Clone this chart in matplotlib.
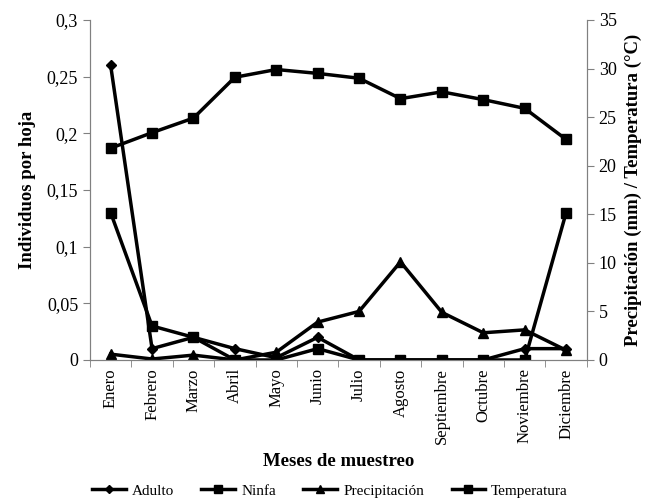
import numpy as np
import matplotlib.pyplot as plt
from matplotlib.ticker import FuncFormatter

plt.rcParams['font.family'] = ['Liberation Serif', 'DejaVu Serif']

meses = ['Enero', 'Febrero', 'Marzo', 'Abril', 'Mayo', 'Junio', 'Julio',
         'Agosto', 'Septiembre', 'Octubre', 'Noviembre', 'Diciembre']
adulto = [0.26, 0.01, 0.02, 0.01, 0.002, 0.02, 0, 0, 0, 0, 0.01, 0.01]
ninfa = [0.13, 0.03, 0.02, 0, 0, 0.01, 0, 0, 0, 0, 0, 0.13]
precipitacion = [0.6, 0.1, 0.5, 0.0, 0.8, 3.9, 5.0, 10.1, 4.9, 2.8, 3.1, 1.0]
temperatura = [21.8, 23.4, 24.9, 29.1, 29.9, 29.5, 29.0, 26.9, 27.6, 26.8, 25.9, 22.7]

x = np.arange(len(meses))
grey = '#808080'

fig = plt.figure(figsize=(6.47, 4.99), dpi=100)
ax = fig.add_axes([0.139, 0.2786, 0.768, 0.6814])
ax2 = ax.twinx()

lw = 2.5
l1, = ax.plot(x, adulto, color='black', lw=lw, marker='D', ms=5, label='Adulto')
l2, = ax.plot(x, ninfa, color='black', lw=lw, marker='s', ms=7, label='Ninfa')
l3, = ax2.plot(x, precipitacion, color='black', lw=lw, marker='^', ms=7, label='Precipitación')
l4, = ax2.plot(x, temperatura, color='black', lw=lw, marker='s', ms=7, label='Temperatura')

ax.set_xlim(-0.5, len(meses) - 0.5)
ax.set_ylim(0, 0.3)
ax2.set_ylim(0, 35)
ax.set_yticks(np.arange(0, 0.301, 0.05))
ax2.set_yticks(np.arange(0, 36, 5))
ax.yaxis.set_major_formatter(FuncFormatter(lambda v, p: ('%g' % round(v, 2)).replace('.', ',')))

ax.set_xticks(x)
ax.set_xticklabels(meses, rotation=90)
ax.set_xticks(np.arange(-0.5, len(meses), 1), minor=True)
ax.tick_params(axis='x', which='major', length=0, pad=6, labelsize=12)
ax.tick_params(axis='x', which='minor', length=5, color=grey)

for a in (ax, ax2):
    for s in a.spines.values():
        s.set_color(grey)
    a.spines['top'].set_visible(False)
    a.tick_params(axis='y', length=5, color=grey, labelsize=13)
ax.set_zorder(ax2.get_zorder() + 1)
ax.patch.set_visible(False)

ax.set_ylabel('Individuos por hoja', fontsize=13.5, fontweight='bold', labelpad=8)
ax2.set_ylabel('Precipitación (mm) / Temperatura (°C)', fontsize=13.5, fontweight='bold', labelpad=6)
ax.set_xlabel('Meses de muestreo', fontsize=13.5, fontweight='bold', labelpad=6)

fig.legend(handles=[l1, l2, l3, l4], loc='lower center', ncol=4, frameon=False,
           fontsize=11, bbox_to_anchor=(0.51, -0.025), handlelength=2.2,
           handletextpad=0.4, columnspacing=1.8, markerscale=0.8)

fig.savefig('out.png', dpi=100)
